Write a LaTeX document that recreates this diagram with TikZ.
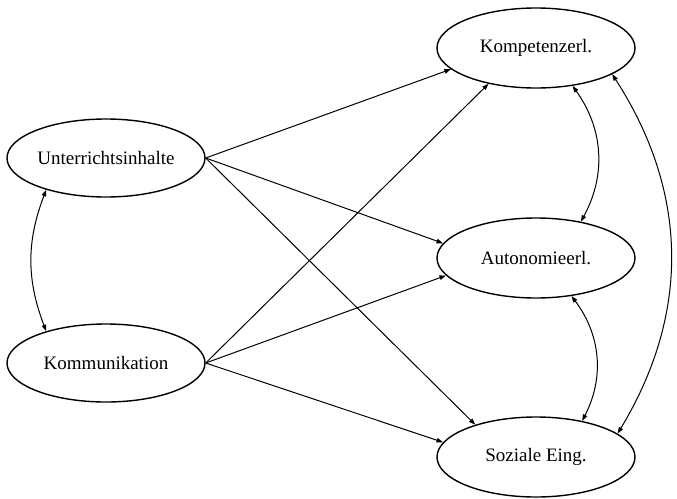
\documentclass[tikz,border=0pt]{standalone}
\usepackage{fontspec}
\setmainfont{Liberation Serif}
\usetikzlibrary{shapes.geometric,arrows.meta}
\begin{document}
\begin{tikzpicture}[x=1pt,y=-1pt,
  latent/.style={ellipse,draw,line width=1.4pt,minimum width=198pt,minimum height=80pt,inner sep=0pt,font=\fontsize{19}{22}\selectfont},
  path/.style={line width=1pt,-{Triangle[length=6.5pt,width=4.5pt]}},
  cov/.style={line width=1pt,{Triangle[length=6.5pt,width=4.5pt]}-{Triangle[length=6.5pt,width=4.5pt]}}]
\useasboundingbox (0,0) rectangle (677,498);
\node[latent,minimum height=78pt] (u) at (106,158) {Unterrichtsinhalte};
\node[latent,minimum height=78pt] (k) at (106,363) {Kommunikation};
\node[latent] (ko) at (536,48) {Kompetenzerl.};
\node[latent] (au) at (536,258) {Autonomieerl.};
\node[latent] (so) at (536,457) {Soziale Eing.};
\draw[path] (u.east) -- (ko.194);
\draw[path] (u.east) -- (au.171);
\draw[path] (u.east) -- (so.152);
\draw[path] (k.east) -- (ko.217);
\draw[path] (k.east) -- (au.191);
\draw[path] (k.east) -- (so.171);
\draw[cov] (u.208) to[bend right=21] (k.152);
\draw[cov] (ko.314) to[bend left=32] (au.39);
\draw[cov] (au.313) to[bend left=32] (so.38);
\draw[cov] (ko.341) to[bend left=32] (so.16);
\end{tikzpicture}
\end{document}
